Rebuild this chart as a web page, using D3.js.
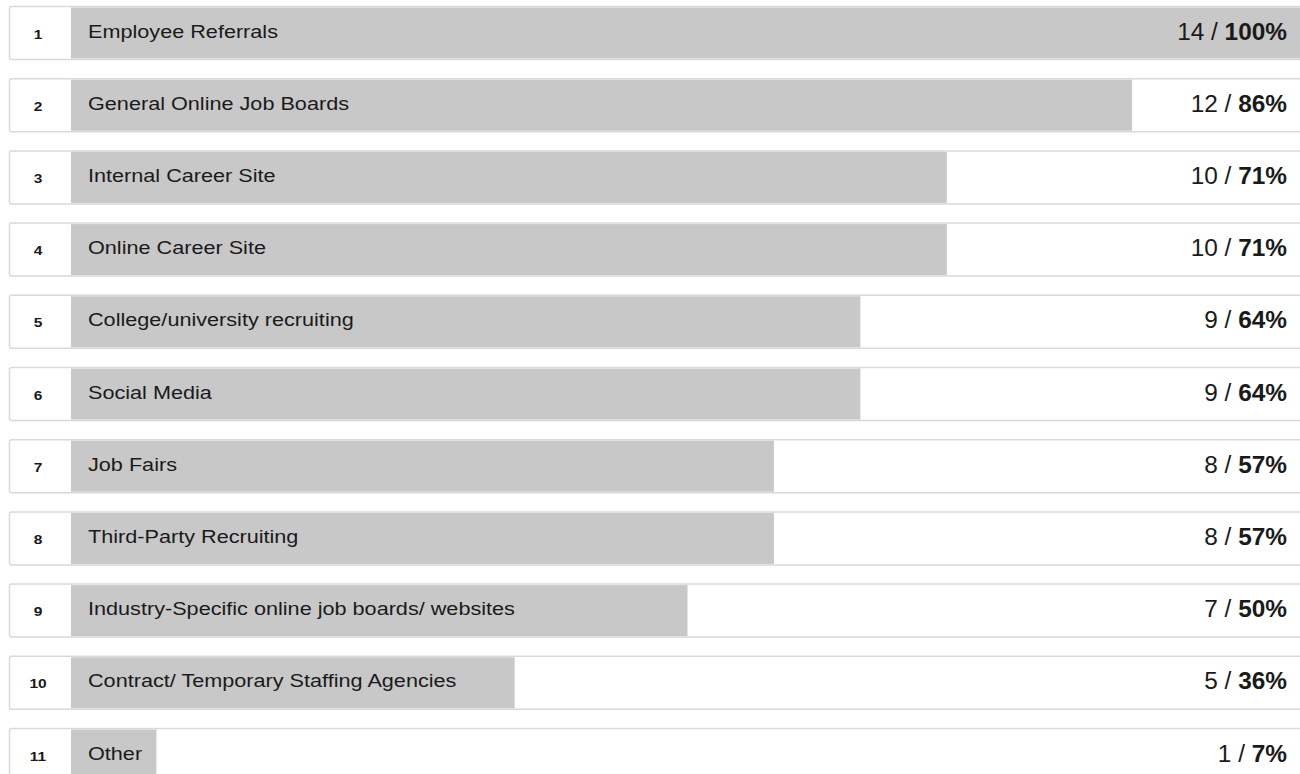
<!DOCTYPE html>
<html><head><meta charset="utf-8">
<script src="https://cdn.jsdelivr.net/npm/d3@7"></script>
<style>
html,body{margin:0;padding:0;background:#fff;overflow:hidden;}
svg{display:block;font-family:"Liberation Sans",Arial,Helvetica,sans-serif;}
</style></head>
<body>
<svg id="chart" width="1300" height="774"></svg>
<script>
const categories = ["Employee Referrals","General Online Job Boards","Internal Career Site","Online Career Site","College/university recruiting","Social Media","Job Fairs","Third-Party Recruiting","Industry-Specific online job boards/ websites","Contract/ Temporary Staffing Agencies","Other"];
const counts = [14,12,10,10,9,9,8,8,7,5,1];
const percents = [100,86,71,71,64,64,57,57,50,36,7];
const ranks = [1,2,3,4,5,6,7,8,9,10,11];

const data = categories.map((c,i)=>({cat:c,count:counts[i],pct:percents[i],rank:ranks[i]}));
const svg = d3.select("#chart");

const pitch = 72.2, rowH = 54, top0 = 6;
const y = d3.scaleLinear().domain([1, 11]).range([top0, top0 + 10*pitch]);
const x = d3.scaleLinear().domain([0,100]).range([70,1305]);

const g = svg.selectAll("g.row").data(data).join("g").attr("class","row")
  .attr("transform", d=>`translate(0,${y(d.rank)})`);

g.append("rect").attr("x",9.5).attr("y",0.5).attr("width",1310).attr("height",rowH-1)
  .attr("rx",2).attr("fill","#fff").attr("stroke","#d9d9d9").attr("stroke-width",1.5);

g.append("rect").attr("x",x(0)+1).attr("y",1.5).attr("width",d=>Math.max(0,x(d.pct)-x(0)-1)).attr("height",rowH-3)
  .attr("fill","#c8c8c8");

g.append("text").attr("transform",`translate(38,${32.5}) scale(1.15,1)`).attr("text-anchor","middle")
  .attr("font-size",13.5).attr("font-weight","bold").attr("fill","#1a1a1a").text(d=>d.rank);

g.append("text").attr("transform",`translate(88,31.5) scale(1.17,1)`)
  .attr("font-size",18.5).attr("fill","#1a1a1a").text(d=>d.cat);

const vt = g.append("text").attr("x",1287).attr("y",33.5).attr("text-anchor","end")
  .attr("font-size",24.4).attr("fill","#1a1a1a");
vt.append("tspan").text(d=>d.count+" / ");
vt.append("tspan").attr("font-weight","bold").text(d=>d.pct+"%");
</script>
</body></html>
